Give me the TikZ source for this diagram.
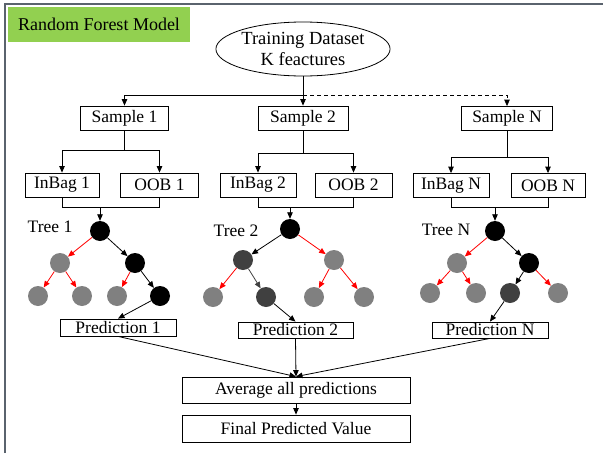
\documentclass[tikz,border=0pt]{standalone}
\usepackage{fontspec}
\setmainfont{Liberation Serif}
\usetikzlibrary{shapes.geometric,arrows.meta}
\definecolor{grn}{HTML}{92D050}
\definecolor{midgray}{HTML}{808080}
\definecolor{darkg}{HTML}{404040}
\definecolor{framec}{HTML}{5A636D}
\begin{document}
\begin{tikzpicture}[x=1pt,y=-1pt,
  font=\fontsize{17.5}{21}\selectfont,
  box/.style={draw, line width=0.8pt, inner sep=0pt},
  conn/.style={line width=0.8pt},
  arr/.style={conn, -{Triangle[length=6.5pt,width=5.5pt]}},
  redarr/.style={arr, red},
  dgarr/.style={arr, darkg},
  nb/.style={circle, fill=black, minimum size=20pt, inner sep=0pt},
  ng/.style={circle, fill=midgray, minimum size=20pt, inner sep=0pt},
  nd/.style={circle, fill=darkg, minimum size=20pt, inner sep=0pt}]
\useasboundingbox (0,0) rectangle (603,453);
\draw[framec, line width=1.3pt] (5,453) -- (5,4) -- (603,4);

\node[fill=grn, minimum width=182pt, minimum height=35pt, inner sep=0pt, font=\fontsize{18}{21}\selectfont] (title) at (99,24.5) {Random Forest Model};
\node[ellipse, draw, line width=0.8pt, minimum width=173pt, minimum height=54pt, align=center, inner sep=0pt, font=\fontsize{18.5}{21}\selectfont] (ds) at (303,49) {Training Dataset\\K feactures};

% samples
\node[box, minimum width=88pt, minimum height=24pt] (s1) at (124.5,118) {Sample 1};
\node[box, minimum width=90pt, minimum height=24pt] (s2) at (303,118) {Sample 2};
\node[box, minimum width=91pt, minimum height=24pt] (sN) at (507,118.5) {Sample N};

\coordinate (sp0) at (303,95);
\draw[arr] (ds.south) -- (s2.north);
\draw[arr] (sp0) -| (s1.north);
\draw[arr, dash pattern=on 4pt off 3pt] (sp0) -| (sN.north);

% bags
\node[box, minimum width=74pt, minimum height=24pt] (ib1) at (62,185) {InBag 1};
\node[box, minimum width=78pt, minimum height=24pt] (ob1) at (159.5,185) {OOB 1};
\node[box, minimum width=76pt, minimum height=24pt] (ib2) at (258,185) {InBag 2};
\node[box, minimum width=77pt, minimum height=24pt] (ob2) at (353.5,185) {OOB 2};
\node[box, minimum width=76pt, minimum height=24pt] (ibN) at (451,185.5) {InBag N};
\node[box, minimum width=74pt, minimum height=24pt] (obN) at (548,185.5) {OOB N};

\coordinate (sp1) at (124.5,150);
\coordinate (sp2) at (303,153);
\coordinate (spN) at (507,157);
\draw[conn] (s1.south) -- (sp1);
\draw[arr] (sp1) -| (ib1.north);
\draw[arr] (sp1) -| (ob1.north);
\draw[conn] (s2.south) -- (sp2);
\draw[arr] (sp2) -| (ib2.north);
\draw[arr] (sp2) -| (ob2.north);
\draw[conn] (sN.south) -- (spN);
\draw[arr] (spN) -| (ibN.north);
\draw[arr] (spN) -| (obN.north);

% tree roots
\node[nb] (r1) at (100,231) {};
\node[nb] (r2) at (290,229) {};
\node[nb] (rN) at (495,231) {};
\coordinate (j1) at (100,207);
\coordinate (j2) at (290,207);
\coordinate (jN) at (495,207);
\draw[conn] (ib1.south) |- (j1);
\draw[conn] (ob1.south) |- (j1);
\draw[arr] (j1) -- (r1.north);
\draw[conn] (ib2.south) |- (j2);
\draw[conn] (ob2.south) |- (j2);
\draw[arr] (j2) -- (r2.north);
\draw[conn] (ibN.south) |- (jN);
\draw[conn] (obN.south) |- (jN);
\draw[arr] (jN) -- (rN.north);

\node (t1) at (50,227) {Tree 1};
\node (t2) at (236,231) {Tree 2};
\node (tN) at (446,230) {Tree N};

% tree 1
\node[ng] (a1) at (60,263) {};
\node[nb] (b1) at (135,263) {};
\node[ng] (c1) at (38,296) {};
\node[ng] (d1) at (82,296) {};
\node[ng] (e1) at (117,296) {};
\node[nb] (f1) at (160,296) {};
\draw[redarr] (r1) -- (a1);
\draw[arr] (r1) -- (b1);
\draw[redarr] (a1) -- (c1);
\draw[redarr] (a1) -- (d1);
\draw[redarr] (b1) -- (e1);
\draw[arr] (b1) -- (f1);

% tree 2
\node[nd] (a2) at (243,260) {};
\node[ng] (b2) at (334,260) {};
\node[ng] (c2) at (213,297) {};
\node[nd] (d2) at (266,297) {};
\node[ng] (e2) at (314,297) {};
\node[ng] (f2) at (364,297) {};
\draw[arr] (r2) -- (a2);
\draw[redarr] (r2) -- (b2);
\draw[redarr] (a2) -- (c2);
\draw[dgarr] (a2) -- (d2);
\draw[redarr] (b2) -- (e2);
\draw[redarr] (b2) -- (f2);

% tree N
\node[ng] (aN) at (457,263) {};
\node[nb] (bN) at (529,263) {};
\node[ng] (cN) at (430,293) {};
\node[ng] (dN) at (476,293) {};
\node[nd] (eN) at (510,293) {};
\node[ng] (fN) at (558,293) {};
\draw[redarr] (rN) -- (aN);
\draw[arr] (rN) -- (bN);
\draw[redarr] (aN) -- (cN);
\draw[redarr] (aN) -- (dN);
\draw[arr] (bN) -- (eN);
\draw[redarr] (bN) -- (fN);

% predictions
\node[box, minimum width=116pt, minimum height=17pt] (p1) at (118,327.5) {Prediction 1};
\node[box, minimum width=115pt, minimum height=16pt] (p2) at (295.5,330) {Prediction 2};
\node[box, minimum width=116pt, minimum height=16pt] (pN) at (490,330) {Prediction N};
\draw[arr] (f1) -- (p1.north);
\draw[arr] (d2) -- (p2.north);
\draw[arr] (eN) -- (pN.north);

\node[box, minimum width=228pt, minimum height=26pt] (avg) at (296,390) {Average all predictions};
\node[box, minimum width=228pt, minimum height=27pt] (fin) at (296,428.5) {Final Predicted Value};
\draw[arr] (p1.south) -- (avg.north);
\draw[arr] (p2.south) -- (avg.north);
\draw[arr] (pN.south) -- (avg.north);
\draw[arr] (avg.south) -- (fin.north);
\end{tikzpicture}
\end{document}
